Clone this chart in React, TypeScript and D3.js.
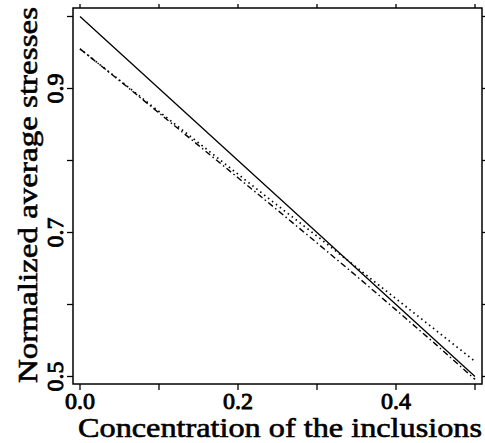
import React from "react";
import * as d3 from "d3";

const xs = [0, 0.05, 0.1, 0.15, 0.2, 0.25, 0.3, 0.35, 0.4, 0.45, 0.5];
const solidVals = [1.0, 0.95, 0.9, 0.85, 0.8, 0.75, 0.7, 0.65, 0.6, 0.55, 0.5];
const dottedVals = [0.955, 0.9116, 0.868, 0.8246, 0.781, 0.7376, 0.695, 0.6516, 0.608, 0.5646, 0.521];
const dashDotVals = [0.955, 0.911, 0.866, 0.821, 0.776, 0.731, 0.6855, 0.6395, 0.5925, 0.545, 0.496];

const xTicks = [0, 0.1, 0.2, 0.3, 0.4, 0.5];
const xTickLabels = ["0.0", "0.2", "0.4"];
const xLabeled = [0, 0.2, 0.4];
const yTicks = [0.5, 0.6, 0.7, 0.8, 0.9, 1.0];
const yLabeled = [0.5, 0.7, 0.9];
const yTickLabels = ["0.5", "0.7", "0.9"];

const W = 485;
const H = 443;
const box = { left: 73, right: 482, top: 8, bottom: 384 };

export default function App() {
  const x = d3.scaleLinear().domain([0, 0.5]).range([80, 475]);
  const y = d3.scaleLinear().domain([0.5, 1.0]).range([376.5, 16.5]);
  const line = d3
    .line<number>()
    .x((_, i) => x(xs[i]))
    .y((d) => y(d));
  const font = "'Liberation Serif', 'DejaVu Serif', serif";
  return (
    <svg
      width={W}
      height={H}
      style={{ position: "absolute", left: 0, top: 0, background: "#fff" }}
    >
      <rect x={0} y={0} width={W} height={H} fill="#fff" />
      <rect
        x={box.left}
        y={box.top}
        width={box.right - box.left}
        height={box.bottom - box.top}
        fill="none"
        stroke="#000"
        strokeWidth={1.5}
      />
      {xTicks.map((t) => (
        <g key={"xt" + t}>
          <line x1={x(t)} x2={x(t)} y1={box.bottom} y2={box.bottom + 6} stroke="#000" strokeWidth={1.3} />
          <line x1={x(t)} x2={x(t)} y1={box.top} y2={box.top - 4} stroke="#000" strokeWidth={1.3} />
        </g>
      ))}
      {yTicks.map((t) => (
        <g key={"yt" + t}>
          <line x1={box.left} x2={box.left - 6} y1={y(t)} y2={y(t)} stroke="#000" strokeWidth={1.3} />
          <line x1={box.right} x2={box.right + 4} y1={y(t)} y2={y(t)} stroke="#000" strokeWidth={1.3} />
        </g>
      ))}
      {xLabeled.map((t, i) => (
        <text
          key={"xl" + t}
          x={x(t)}
          y={409}
          textAnchor="middle"
          fontFamily={font}
          fontSize={24}
          stroke="#000"
          strokeWidth={0.9}
        >
          {xTickLabels[i]}
        </text>
      ))}
      {yLabeled.map((t, i) => (
        <text
          key={"yl" + t}
          transform={`translate(63,${y(t)}) rotate(-90)`}
          textAnchor="middle"
          fontFamily={font}
          fontSize={24}
          stroke="#000"
          strokeWidth={0.9}
        >
          {yTickLabels[i]}
        </text>
      ))}
      <path d={line(solidVals) || ""} fill="none" stroke="#000" strokeWidth={1.3} />
      <path d={line(dottedVals) || ""} fill="none" stroke="#000" strokeWidth={1.7} strokeDasharray="1.5,3.5" />
      <path d={line(dashDotVals) || ""} fill="none" stroke="#000" strokeWidth={1.4} strokeDasharray="6,3,1.5,3" />
      <text
        x={280}
        y={437}
        textAnchor="middle"
        fontFamily={font}
        fontSize={27}
        textLength={404}
        lengthAdjust="spacingAndGlyphs"
        stroke="#000"
        strokeWidth={0.6}
      >
        Concentration of the inclusions
      </text>
      <text
        transform={`translate(37,195) rotate(-90)`}
        textAnchor="middle"
        fontFamily={font}
        fontSize={28}
        textLength={376}
        lengthAdjust="spacingAndGlyphs"
        stroke="#000"
        strokeWidth={0.6}
      >
        Normalized average stresses
      </text>
    </svg>
  );
}
